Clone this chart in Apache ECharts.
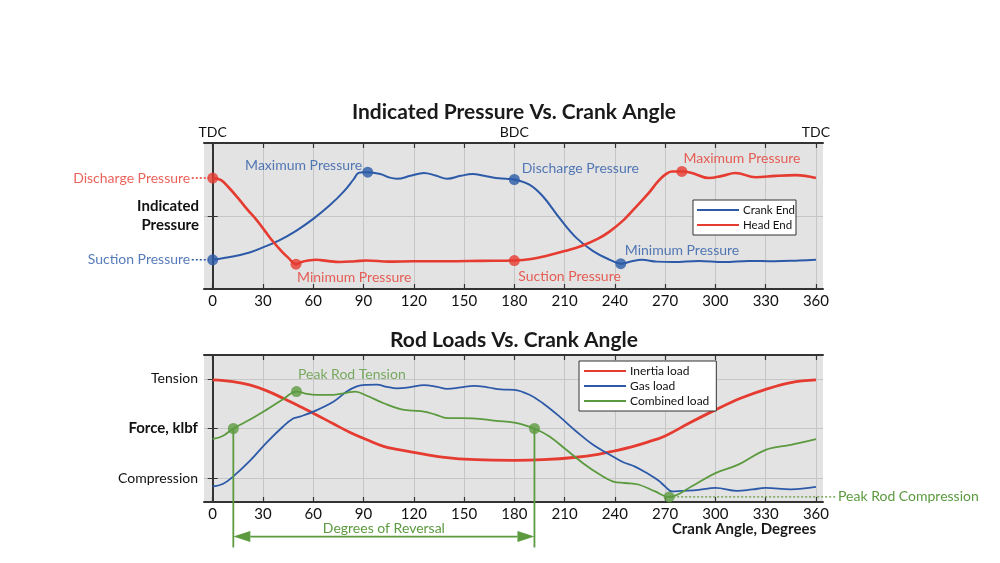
<!DOCTYPE html>
<html><head><meta charset="utf-8">
<script src="https://cdn.jsdelivr.net/npm/echarts@6/dist/echarts.min.js"></script>
<style>html,body{margin:0;padding:0;background:#fff}#c{width:1000px;height:563px}</style>
</head><body><div id="c"></div>
<script>
// ---------- DATA ----------
const crankAngleTicks = [0, 30, 60, 90, 120, 150, 180, 210, 240, 270, 300, 330, 360];
const deadCentreAngles = [0, 180, 360];
const deadCentreLabels = ['TDC', 'BDC', 'TDC'];

// Indicated pressure (relative units)
const crankEndAngles = [0, 12, 22, 30, 40, 50, 60, 70, 78, 84, 87, 90, 92.5, 100, 105, 110, 118, 126, 133, 140, 148, 155, 162, 169, 175, 180, 189, 197, 207, 217, 227, 237, 243.5, 250, 256, 265, 275, 290, 305, 320, 335, 350, 360];
const crankEndPressure = [0.40, 0.445, 0.50, 0.57, 0.67, 0.80, 0.96, 1.15, 1.33, 1.50, 1.59, 1.60, 1.60, 1.575, 1.53, 1.51, 1.55, 1.59, 1.555, 1.51, 1.55, 1.575, 1.55, 1.52, 1.51, 1.50, 1.43, 1.27, 0.97, 0.70, 0.52, 0.40, 0.347, 0.38, 0.40, 0.375, 0.37, 0.385, 0.37, 0.385, 0.38, 0.39, 0.40];
const headEndAngles = [0, 5, 10, 16, 21, 26, 31, 36, 41, 45, 49.7, 53, 57, 62, 68, 76, 85, 92, 105, 120, 140, 160, 180, 190, 200, 210, 220, 230, 237, 245, 250, 260, 266, 270, 274, 280, 286, 296, 304, 312, 324, 336, 348, 360];
const headEndPressure = [1.52, 1.49, 1.38, 1.22, 1.08, 0.95, 0.80, 0.65, 0.52, 0.43, 0.34, 0.37, 0.39, 0.40, 0.385, 0.37, 0.38, 0.39, 0.375, 0.38, 0.38, 0.385, 0.39, 0.41, 0.46, 0.52, 0.59, 0.69, 0.79, 0.94, 1.06, 1.31, 1.48, 1.566, 1.61, 1.61, 1.59, 1.52, 1.55, 1.59, 1.53, 1.55, 1.56, 1.52];

const crankEndMarkAngles = [0, 92.5, 180, 243.5];
const crankEndMarkValues = [0.40, 1.60, 1.50, 0.347];
const crankEndMarkNames = ['Suction Pressure', 'Maximum Pressure', 'Discharge Pressure', 'Minimum Pressure'];
const headEndMarkAngles = [0, 49.7, 180, 280];
const headEndMarkValues = [1.52, 0.34, 0.39, 1.61];
const headEndMarkNames = ['Discharge Pressure', 'Minimum Pressure', 'Suction Pressure', 'Maximum Pressure'];

// Rod loads (relative units: -1 compression, 0, +1 tension)
const inertiaAngles = [0, 12, 22, 32, 42, 52, 60, 72, 82, 92, 102, 110, 120, 137, 157, 180, 197, 217, 230, 240, 250, 260, 270, 285, 300, 315, 330, 345, 360];
const inertiaLoad = [0.98, 0.946, 0.88, 0.765, 0.61, 0.443, 0.31, 0.095, -0.08, -0.227, -0.36, -0.42, -0.48, -0.576, -0.63, -0.643, -0.63, -0.58, -0.52, -0.45, -0.37, -0.27, -0.15, 0.12, 0.376, 0.61, 0.79, 0.926, 0.98];
const gasAngles = [0, 6, 12.3, 22, 32, 42, 48, 52, 60, 72, 80, 86, 92, 98, 104, 110, 118, 126, 134, 140, 148, 156, 164, 172, 180, 189, 197, 207, 217, 227, 237, 245, 252, 260, 266, 270, 274, 280, 290, 300, 313, 322, 330, 345, 360];
const gasLoad = [-1.17, -1.12, -0.965, -0.66, -0.29, 0.04, 0.20, 0.24, 0.34, 0.54, 0.745, 0.85, 0.88, 0.885, 0.84, 0.81, 0.835, 0.875, 0.84, 0.80, 0.83, 0.86, 0.83, 0.79, 0.78, 0.68, 0.51, 0.24, -0.06, -0.33, -0.53, -0.68, -0.77, -0.92, -1.05, -1.17, -1.27, -1.26, -1.24, -1.20, -1.26, -1.23, -1.20, -1.23, -1.18];
const combinedAngles = [0, 6, 12.3, 22, 32, 42, 50, 56, 62, 72, 80, 85, 92, 102, 112, 120, 126, 133, 140, 155, 169, 180, 186, 192, 201, 211, 221, 231, 239, 246, 254, 264, 272.4, 285.7, 300, 313.6, 330, 345, 360];
const combinedLoad = [-0.21, -0.15, 0.0, 0.175, 0.376, 0.59, 0.745, 0.70, 0.68, 0.68, 0.72, 0.745, 0.66, 0.51, 0.39, 0.36, 0.34, 0.28, 0.21, 0.205, 0.155, 0.12, 0.07, 0.0, -0.16, -0.43, -0.70, -0.93, -1.07, -1.10, -1.13, -1.27, -1.38, -1.17, -0.90, -0.73, -0.43, -0.33, -0.215];

const forceTickValues = [-1, 0, 1];
const forceTickLabels = ['Compression', 'Force, klbf', 'Tension'];
const peakTension = [50, 0.745];
const peakCompression = [272.4, -1.38];
const reversalAngles = [12.3, 192];

// ---------- STYLE ----------
const FONT = 'Lato';
const BLUE = '#2c5aa8', RED = '#e53b30', GREEN = '#5b9a3e', FRAME = '#333333';
const X_MIN = -5.2, X_MAX = 364.2;
const zip = (a, b) => a.map((v, i) => [v, b[i]]);

const chart = echarts.init(document.getElementById('c'), null, {renderer: 'canvas'});

function xAxisCfg(grid, pos, labels) {
  return {
    type: 'value', gridIndex: grid, position: pos, min: X_MIN, max: X_MAX,
    axisLine: {show: true, onZero: false, lineStyle: {color: FRAME, width: 2}},
    axisTick: {show: true, inside: true, length: 5, customValues: crankAngleTicks, lineStyle: {color: FRAME, width: 1.2}},
    axisLabel: labels,
    splitLine: {show: pos === 'bottom', lineStyle: {color: '#c6c6c6', width: 1}}
  };
}

const bottomLabels = {show: true, customValues: crankAngleTicks, margin: 5, color: '#111', fontSize: 15, fontFamily: FONT};

const crankMarkLabel = [
  {position: 'left', distance: 17},
  {position: 'left', distance: 0, offset: [0, -7]},
  {position: 'right', distance: 2, offset: [0, -11]},
  {position: 'right', distance: -1.5, offset: [0, -13]}
];
const headMarkLabel = [
  {position: 'left', distance: 17},
  {position: 'right', distance: -4.5, offset: [0, 13]},
  {position: 'right', distance: -1.5, offset: [0, 16]},
  {position: 'right', distance: -4, offset: [0, -13]}
];

function markers(angles, values, names, styles, color, xi, yi) {
  return {
    type: 'scatter', xAxisIndex: xi, yAxisIndex: yi, symbolSize: 11, z: 5, silent: true,
    itemStyle: {color: color},
    data: angles.map((a, i) => ({
      value: [a, values[i]],
      label: Object.assign({show: true, formatter: names[i], color: color, fontSize: 14, fontFamily: FONT}, styles[i])
    }))
  };
}

// dotted leader line drawn through the axes' scales (may run outside the plot frame)
function leader(xi, yi, x0, x1, y, color, text) {
  return {
    type: 'custom', xAxisIndex: xi, yAxisIndex: yi, clip: false, silent: true, z: 4,
    data: [[x0, y, x1, y]],
    encode: {x: [0, 2], y: [1, 3]},
    renderItem: function (params, api) {
      const p0 = api.coord([api.value(0), api.value(1)]);
      const p1 = api.coord([api.value(2), api.value(3)]);
      const children = [{type: 'line', shape: {x1: p0[0], y1: p0[1], x2: p1[0], y2: p1[1]},
        style: {stroke: color, lineWidth: 1.4, lineDash: [2, 2]}}];
      if (text) children.push({type: 'text', x: p1[0] + 2, y: p1[1],
        style: {text: text, fill: color, fontSize: 14, fontFamily: FONT, align: 'left', verticalAlign: 'middle'}});
      return {type: 'group', children: children};
    }
  };
}

const option = {
  animation: false,
  backgroundColor: '#ffffff',
  textStyle: {fontFamily: FONT},
  title: [
    {text: 'Indicated Pressure Vs. Crank Angle', left: 514, top: 102, textAlign: 'center', padding: 0,
     textStyle: {fontSize: 21, fontWeight: 'bold', color: '#1a1a1a', fontFamily: FONT}},
    {text: 'Rod Loads Vs. Crank Angle', left: 514, top: 330, textAlign: 'center', padding: 0,
     textStyle: {fontSize: 21, fontWeight: 'bold', color: '#1a1a1a', fontFamily: FONT}},
    {text: 'Crank Angle, Degrees', left: 816, top: 522, textAlign: 'right', padding: 0,
     textStyle: {fontSize: 15, fontWeight: 'bold', color: '#1a1a1a', fontFamily: FONT}}
  ],
  legend: [
    {data: ['Crank End', 'Head End'], left: 693, top: 200, orient: 'vertical', icon: 'rect',
     itemWidth: 42, itemHeight: 2, itemGap: 1, padding: [3, 1, 3, 4], backgroundColor: '#fff',
     borderColor: FRAME, borderWidth: 1, borderRadius: 0, selectedMode: false,
     textStyle: {fontSize: 11.5, fontFamily: FONT, color: '#111', padding: [0, 0, 0, -1], lineHeight: 14}},
    {data: ['Inertia load', 'Gas load', 'Combined load'], left: 579, top: 361, orient: 'vertical', icon: 'rect',
     itemWidth: 42, itemHeight: 2, itemGap: 1, padding: [3, 7, 3, 5], backgroundColor: '#fff',
     borderColor: FRAME, borderWidth: 1, borderRadius: 0, selectedMode: false,
     textStyle: {fontSize: 12, fontFamily: FONT, color: '#111', padding: [0, 0, 0, -1], lineHeight: 14}}
  ],
  grid: [
    {left: 204, right: 177, top: 143, height: 146, show: true, backgroundColor: '#e3e3e3', borderWidth: 0},
    {left: 204, right: 177, top: 355, height: 147, show: true, backgroundColor: '#e3e3e3', borderWidth: 0}
  ],
  xAxis: [
    xAxisCfg(0, 'bottom', bottomLabels),
    xAxisCfg(0, 'top', {show: true, customValues: deadCentreAngles, margin: 4, color: '#111', fontSize: 14, fontFamily: FONT,
      formatter: v => deadCentreLabels[deadCentreAngles.indexOf(v)]}),
    xAxisCfg(1, 'bottom', bottomLabels),
    xAxisCfg(1, 'top', {show: false})
  ],
  yAxis: [
    {type: 'value', gridIndex: 0, position: 'left', min: 0, max: 2, interval: 1,
     axisLine: {show: true, lineStyle: {color: FRAME, width: 2}},
     axisTick: {show: true, inside: true, length: 5, lineStyle: {color: FRAME}},
     axisLabel: {show: false}, splitLine: {show: true, lineStyle: {color: '#c6c6c6'}},
     name: 'Indicated\nPressure', nameLocation: 'middle', nameRotate: 0, nameGap: 5,
     nameTextStyle: {align: 'right', verticalAlign: 'middle', fontSize: 15, fontWeight: 'bold', color: '#111', lineHeight: 19, fontFamily: FONT}},
    {type: 'value', gridIndex: 0, position: 'right', min: 0, max: 2, interval: 1,
     axisLine: {show: true, lineStyle: {color: FRAME, width: 2}},
     axisTick: {show: true, inside: true, length: 5, lineStyle: {color: FRAME}},
     axisLabel: {show: false}, splitLine: {show: false}},
    {type: 'value', gridIndex: 1, position: 'left', min: -1.483, max: 1.483,
     axisLine: {show: true, lineStyle: {color: FRAME, width: 2}},
     axisTick: {show: true, inside: true, length: 5, customValues: forceTickValues, lineStyle: {color: FRAME}},
     axisLabel: {show: true, customValues: forceTickValues, margin: 6, color: '#111', fontSize: 14, fontFamily: FONT,
       formatter: v => { const s = forceTickLabels[forceTickValues.indexOf(v)]; return v === 0 ? '{b|' + s + '}' : s; },
       rich: {b: {fontWeight: 'bold', fontSize: 15, color: '#111', fontFamily: FONT}}},
     splitLine: {show: true, lineStyle: {color: '#c6c6c6'}}},
    {type: 'value', gridIndex: 1, position: 'right', min: -1.483, max: 1.483,
     axisLine: {show: true, lineStyle: {color: FRAME, width: 2}},
     axisTick: {show: true, inside: true, length: 5, customValues: forceTickValues, lineStyle: {color: FRAME}},
     axisLabel: {show: false}, splitLine: {show: false}}
  ],
  series: [
    {name: 'Crank End', type: 'line', xAxisIndex: 0, yAxisIndex: 0, symbol: 'none', smooth: 0.4, z: 3,
     lineStyle: {color: BLUE, width: 2}, itemStyle: {color: BLUE}, data: zip(crankEndAngles, crankEndPressure)},
    {name: 'Head End', type: 'line', xAxisIndex: 0, yAxisIndex: 0, symbol: 'none', smooth: 0.4, z: 3,
     lineStyle: {color: RED, width: 2.6}, itemStyle: {color: RED}, data: zip(headEndAngles, headEndPressure)},
    leader(0, 0, -12.5, -2.2, headEndMarkValues[0], RED),
    leader(0, 0, -12.5, -2.2, crankEndMarkValues[0], BLUE),
    markers(crankEndMarkAngles, crankEndMarkValues, crankEndMarkNames, crankMarkLabel, BLUE, 0, 0),
    markers(headEndMarkAngles, headEndMarkValues, headEndMarkNames, headMarkLabel, RED, 0, 0),

    {name: 'Inertia load', type: 'line', xAxisIndex: 2, yAxisIndex: 2, symbol: 'none', smooth: 0.4, z: 3,
     lineStyle: {color: RED, width: 2.8}, itemStyle: {color: RED}, data: zip(inertiaAngles, inertiaLoad)},
    {name: 'Gas load', type: 'line', xAxisIndex: 2, yAxisIndex: 2, symbol: 'none', smooth: 0.4, z: 3,
     lineStyle: {color: BLUE, width: 1.8}, itemStyle: {color: BLUE}, data: zip(gasAngles, gasLoad)},
    {name: 'Combined load', type: 'line', xAxisIndex: 2, yAxisIndex: 2, symbol: 'none', smooth: 0.4, z: 3,
     lineStyle: {color: GREEN, width: 1.8}, itemStyle: {color: GREEN}, data: zip(combinedAngles, combinedLoad)},
    leader(2, 2, peakCompression[0], 372, peakCompression[1], GREEN, 'Peak Rod Compression'),
    // degrees of reversal annotation
    {type: 'custom', xAxisIndex: 2, yAxisIndex: 2, clip: false, silent: true, z: 4,
     data: [[reversalAngles[0], 0, reversalAngles[1], 0]],
     encode: {x: [0, 2], y: [1, 3]},
     renderItem: function (params, api) {
       const a0 = api.value(0), a1 = api.value(2), y0 = api.value(1);
       const t0 = api.coord([a0, y0]), t1 = api.coord([a1, y0]);
       const b0 = api.coord([a0, -2.4]), b1 = api.coord([a1, -2.4]);
       const r0 = api.coord([a0, -2.18]), r1 = api.coord([a1, -2.18]);
       const st = {stroke: GREEN, lineWidth: 1.8};
       const ah = 17, hw = 5.5;
       return {type: 'group', children: [
         {type: 'line', shape: {x1: t0[0], y1: t0[1], x2: b0[0], y2: b0[1]}, style: st},
         {type: 'line', shape: {x1: t1[0], y1: t1[1], x2: b1[0], y2: b1[1]}, style: st},
         {type: 'line', shape: {x1: r0[0] + ah, y1: r0[1], x2: r1[0] - ah, y2: r1[1]}, style: st},
         {type: 'polygon', shape: {points: [[r0[0], r0[1]], [r0[0] + ah, r0[1] - hw], [r0[0] + ah, r0[1] + hw]]}, style: {fill: GREEN}},
         {type: 'polygon', shape: {points: [[r1[0], r1[1]], [r1[0] - ah, r1[1] - hw], [r1[0] - ah, r1[1] + hw]]}, style: {fill: GREEN}},
         {type: 'text', x: (r0[0] + r1[0]) / 2, y: r0[1] - 1,
          style: {text: 'Degrees of Reversal', fill: GREEN, fontSize: 14, fontFamily: FONT, align: 'center', verticalAlign: 'bottom'}}
       ]};
     }},
    {type: 'scatter', xAxisIndex: 2, yAxisIndex: 2, symbolSize: 11, z: 5, silent: true, itemStyle: {color: GREEN},
     data: [
       {value: [reversalAngles[0], 0]},
       {value: peakTension, label: {show: true, formatter: 'Peak Rod Tension', position: 'right', distance: -4, offset: [0, -17], color: GREEN, fontSize: 14, fontFamily: FONT}},
       {value: [reversalAngles[1], 0]},
       {value: peakCompression}
     ]}
  ]
};
chart.setOption(option);
</script>
</body></html>
